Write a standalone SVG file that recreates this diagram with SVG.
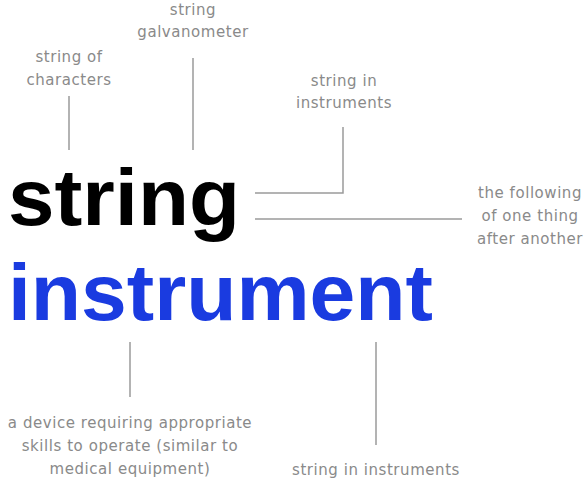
<svg xmlns="http://www.w3.org/2000/svg" width="588" height="483" viewBox="0 0 588 483">
<style>
.lbl{font-family:"DejaVu Sans","Liberation Sans",sans-serif;font-size:15px;letter-spacing:0.55px;fill:#8a8a8a;text-anchor:middle}
.big{font-family:"Liberation Sans",Arial,sans-serif;font-size:80px;font-weight:bold}
.ln{stroke:#9a9a9a;stroke-width:1.5;fill:none}
</style>
<rect width="588" height="483" fill="#ffffff"/>
<g id="connectors">
<line class="ln" x1="69" y1="96" x2="69" y2="150"/>
<line class="ln" x1="193" y1="58" x2="193" y2="150"/>
<polyline class="ln" points="255,193 343,193 343,127"/>
<line class="ln" x1="255" y1="219" x2="462" y2="219"/>
<line class="ln" x1="130" y1="342" x2="130" y2="397"/>
<line class="ln" x1="376" y1="342" x2="376" y2="445"/>
</g>
<g id="string">
<text class="big" x="8" y="225" fill="#000000" textLength="232" lengthAdjust="spacingAndGlyphs">string</text>
</g>
<g id="instrument">
<text class="big" x="8" y="320" fill="#1a3be0" textLength="425" lengthAdjust="spacingAndGlyphs">instrument</text>
</g>
<g id="string-of-characters">
<text class="lbl" x="69" y="62">string of</text>
<text class="lbl" x="69" y="85">characters</text>
</g>
<g id="string-galvanometer">
<text class="lbl" x="193" y="15">string</text>
<text class="lbl" x="193" y="37">galvanometer</text>
</g>
<g id="string-in-instruments-top">
<text class="lbl" x="344" y="86">string in</text>
<text class="lbl" x="344" y="108">instruments</text>
</g>
<g id="the-following">
<text class="lbl" x="530" y="198">the following</text>
<text class="lbl" x="530" y="221">of one thing</text>
<text class="lbl" x="530" y="244">after another</text>
</g>
<g id="a-device">
<text class="lbl" x="130" y="428">a device requiring appropriate</text>
<text class="lbl" x="130" y="451">skills to operate (similar to</text>
<text class="lbl" x="130" y="474">medical equipment)</text>
</g>
<g id="string-in-instruments-bottom">
<text class="lbl" x="376" y="475">string in instruments</text>
</g>
</svg>
